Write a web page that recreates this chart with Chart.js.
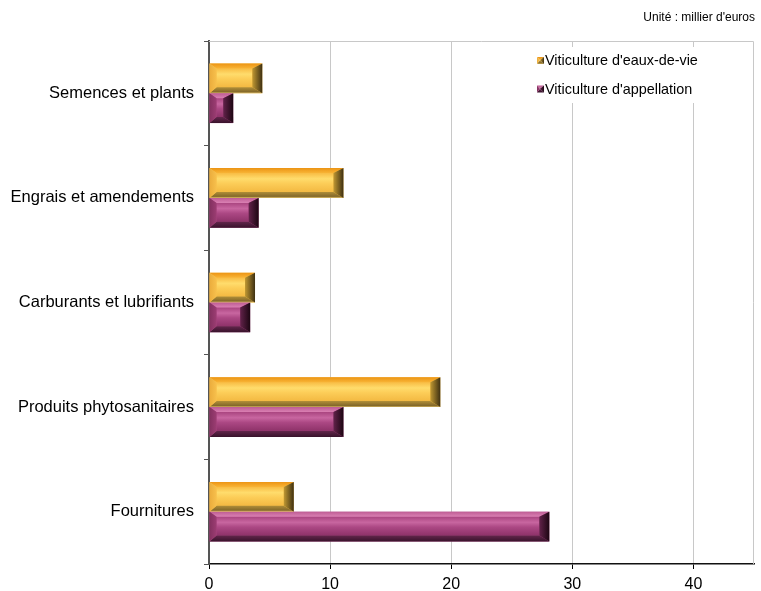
<!DOCTYPE html>
<html>
<head>
<meta charset="utf-8">
<script src="https://cdn.jsdelivr.net/npm/chart.js@4.4.0/dist/chart.umd.min.js"></script>
<style>
html, body { margin: 0; padding: 0; background: #fff; }
#wrap { width: 761px; height: 591px; }
</style>
</head>
<body>
<div id="wrap"><canvas id="chartCanvas"></canvas></div>
<script>
// Data
const categories = ['Semences et plants', 'Engrais et amendements', 'Carburants et lubrifiants', 'Produits phytosanitaires', 'Fournitures'];
const seriesNames = ["Viticulture d'eaux-de-vie", "Viticulture d'appellation"];
const eauxDeVie = [4.4, 11.1, 3.8, 19.1, 7.0];
const appellation = [2.0, 4.1, 3.4, 11.1, 28.1];
const xTicks = [0, 10, 20, 30, 40];
const unitLabel = "Unité : millier d'euros";

const FONT = '"Liberation Sans", Arial, sans-serif';

// Bevel palettes (gradient stops)
const gold = {
    base: '#F9C14B',
    face: [[0, '#F8BC44'], [0.3, '#FFDC6C'], [0.55, '#FCCD58'], [1, '#F3B942']],
    top: [[0, '#EC9414'], [1, '#F8B436']],
    bottom: [[0, '#B08E38'], [0.75, '#84692A'], [1, '#DCBC66']],
    left: [[0, '#EBAC3C'], [1, '#F7C04C']],
    right: [[0, '#C09832'], [1, '#3E3012']]
};
const purple = {
    base: '#AC4782',
    face: [[0, '#AA4580'], [0.3, '#C866A0'], [0.55, '#AC4884'], [1, '#8E3269']],
    top: [[0, '#BE5C94'], [1, '#DA80B3']],
    bottom: [[0, '#62264B'], [1, '#38122B']],
    left: [[0, '#82305F'], [1, '#9C3D73']],
    right: [[0, '#62224A'], [1, '#1C0612']]
};
const palettes = [gold, purple];

function grad(ctx, x0, y0, x1, y1, stops) {
    const g = ctx.createLinearGradient(x0, y0, x1, y1);
    stops.forEach(([o, c]) => g.addColorStop(o, c));
    return g;
}

function poly(ctx, pts, fill) {
    ctx.beginPath();
    ctx.moveTo(pts[0][0], pts[0][1]);
    for (let i = 1; i < pts.length; i++) ctx.lineTo(pts[i][0], pts[i][1]);
    ctx.closePath();
    ctx.fillStyle = fill;
    ctx.fill();
}

function drawBevel(ctx, L, T, R, B, pal) {
    const w = R - L, h = B - T;
    let bl = 7, br = 10;
    const sh = Math.min(1, w / (bl + br));
    bl *= sh; br *= sh;
    let bt = 5, bb = 6;
    const sv = Math.min(1, h / (bt + bb));
    bt *= sv; bb *= sv;
    const iL = L + bl, iR = R - br, iT = T + bt, iB = B - bb;

    ctx.fillStyle = grad(ctx, 0, iT, 0, iB, pal.face);
    ctx.fillRect(iL, iT, iR - iL, iB - iT);
    poly(ctx, [[L, T], [R, T], [iR, iT], [iL, iT]], grad(ctx, 0, T, 0, iT, pal.top));
    poly(ctx, [[L, B], [iL, iB], [iR, iB], [R, B]], grad(ctx, 0, iB, 0, B, pal.bottom));
    poly(ctx, [[L, T], [iL, iT], [iL, iB], [L, B]], grad(ctx, L, 0, iL, 0, pal.left));
    poly(ctx, [[R, T], [R, B], [iR, iB], [iR, iT]], grad(ctx, iR, 0, R, 0, pal.right));
}

// Plugin: bevelled look on top of each bar
const bevelPlugin = {
    id: 'bevel',
    afterDatasetsDraw(chart) {
        const ctx = chart.ctx;
        ctx.save();
        chart.data.datasets.forEach((ds, i) => {
            chart.getDatasetMeta(i).data.forEach(bar => {
                const p = bar.getProps(['x', 'y', 'base', 'height'], true);
                const L = Math.min(p.base, p.x), R = Math.max(p.base, p.x);
                drawBevel(ctx, L, p.y - p.height / 2, R, p.y + p.height / 2, palettes[i]);
            });
        });
        ctx.restore();
    }
};

// Plugin: frame on top/right, legend box and unit label
const extrasPlugin = {
    id: 'extras',
    beforeDatasetsDraw(chart) {
        const { ctx, chartArea: a } = chart;
        ctx.save();
        ctx.strokeStyle = '#c8c8c8';
        ctx.lineWidth = 1;
        ctx.beginPath();
        ctx.moveTo(a.left, a.top + 0.5);
        ctx.lineTo(a.right - 0.5, a.top + 0.5);
        ctx.lineTo(a.right - 0.5, a.bottom);
        ctx.stroke();
        ctx.restore();
    },
    afterDraw(chart) {
        const { ctx, chartArea: a } = chart;
        ctx.save();
        // unit
        ctx.font = '12px ' + FONT;
        ctx.fillStyle = '#000';
        ctx.textAlign = 'right';
        ctx.textBaseline = 'alphabetic';
        ctx.fillText(unitLabel, 755, 21);

        // legend
        ctx.fillStyle = '#fff';
        ctx.fillRect(530, 47, a.right - 1 - 530, 56);
        ctx.font = '14.4px ' + FONT;
        ctx.textAlign = 'left';
        chart.data.datasets.forEach((ds, i) => {
            const yb = 65 + i * 28.5;
            drawBevel(ctx, 537, yb - 8, 544, yb - 1, palettes[i]);
            ctx.fillStyle = '#000';
            ctx.fillText(ds.label, 545, yb);
        });
        ctx.restore();
    }
};

const chartCanvas = document.getElementById('chartCanvas');
const chart = new Chart(chartCanvas, {
    type: 'bar',
    data: {
        labels: categories,
        datasets: [
            { label: seriesNames[0], data: eauxDeVie, backgroundColor: gold.base },
            { label: seriesNames[1], data: appellation, backgroundColor: purple.base }
        ]
    },
    options: {
        indexAxis: 'y',
        responsive: true,
        maintainAspectRatio: false,
        animation: false,
        layout: { padding: { top: 41, right: 7, left: 0, bottom: 0 } },
        datasets: { bar: { categoryPercentage: 0.57, barPercentage: 1, borderWidth: 0 } },
        plugins: { legend: { display: false }, tooltip: { enabled: false } },
        scales: {
            x: {
                min: 0,
                max: 45,
                afterBuildTicks: s => { s.ticks = xTicks.map(v => ({ value: v })); },
                afterFit: s => { s.height = 27; },
                grid: { color: '#c8c8c8', tickColor: '#000', tickLength: 5, lineWidth: 1 },
                border: { color: '#111', width: 1.5 },
                ticks: { font: { family: FONT, size: 16 }, color: '#000', padding: 6, maxRotation: 0 }
            },
            y: {
                afterFit: s => { s.width = 209; },
                grid: { drawOnChartArea: false, tickColor: '#555', tickLength: 5, offset: true },
                border: { color: '#555', width: 2 },
                ticks: { font: { family: FONT, size: 16.5 }, color: '#000', padding: 10 }
            }
        }
    },
    plugins: [bevelPlugin, extrasPlugin]
});
</script>
</body>
</html>
